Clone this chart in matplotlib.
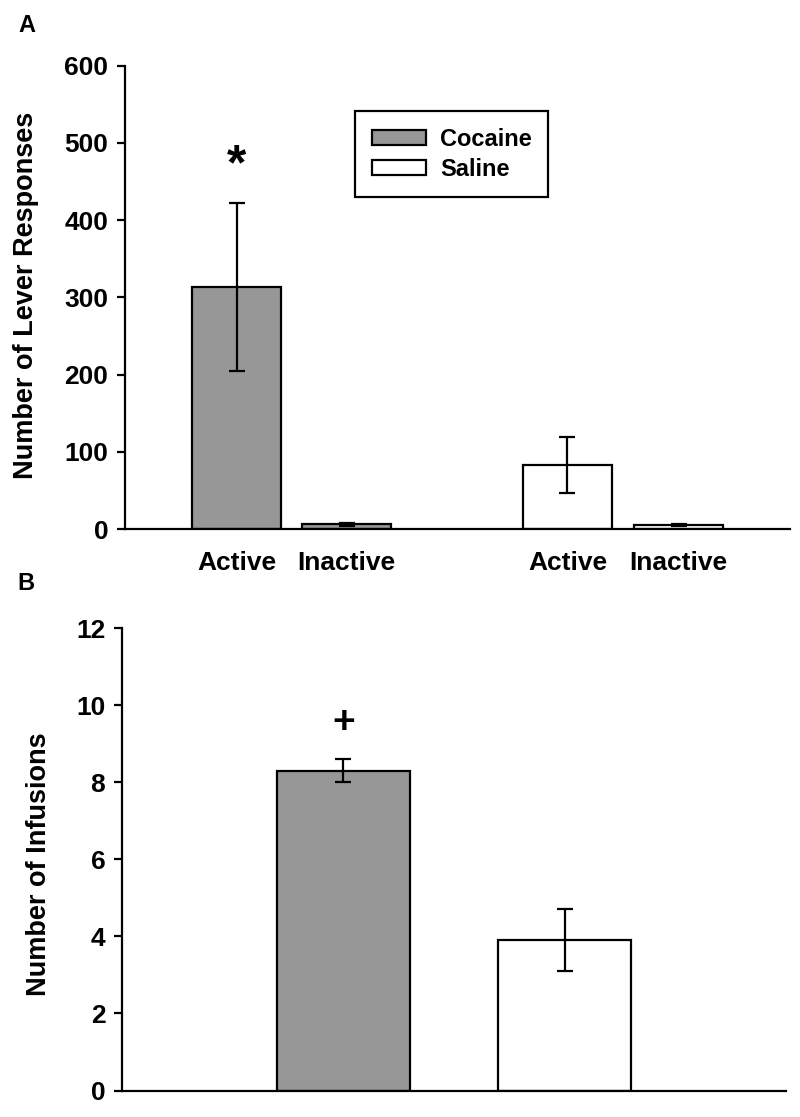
import matplotlib
matplotlib.use('Agg')
import matplotlib.pyplot as plt

plt.rcParams['font.family'] = ['Liberation Sans', 'DejaVu Sans']
plt.rcParams['font.weight'] = 'bold'
plt.rcParams['axes.labelweight'] = 'bold'

# panel A: lever responses
lever_labels = ['Active', 'Inactive', 'Active', 'Inactive']
cocaine_resp = [313, 6]
cocaine_resp_err = [109, 1.5]
saline_resp = [83, 5]
saline_resp_err = [36, 1]

# panel B: infusions
infusion_groups = ['Cocaine', 'Saline']
infusions = [8.3, 3.9]
infusions_err = [0.3, 0.8]

gray = '#979797'
lw = 1.6
fs = 19

fig = plt.figure(figsize=(8, 11.17), dpi=100)
W, H = 800, 1117


def px_axes(x0, x1, ytop, ybot):
    return fig.add_axes([x0 / W, 1 - ybot / H, (x1 - x0) / W, (ybot - ytop) / H])


def style(ax):
    for s in ['top', 'right']:
        ax.spines[s].set_visible(False)
    for s in ['left', 'bottom']:
        ax.spines[s].set_linewidth(lw)
    ax.tick_params(axis='y', direction='out', length=6, width=lw, labelsize=fs, pad=6)
    ax.tick_params(axis='x', length=0)


# ---- panel A ----
axA = px_axes(125, 790, 65.7, 529)
pos_c = [1.253, 2.489]
pos_s = [4.97, 6.22]
ek = dict(elinewidth=lw, capthick=lw, capsize=6, ecolor='black')
axA.bar(pos_c, cocaine_resp, width=1.0, color=gray, edgecolor='black', linewidth=lw,
        yerr=cocaine_resp_err, error_kw=ek, label='Cocaine')
axA.bar(pos_s, saline_resp, width=1.0, color='white', edgecolor='black', linewidth=lw,
        yerr=saline_resp_err, error_kw=ek, label='Saline')
axA.set_xlim(0, 7.47)
axA.set_ylim(0, 600)
axA.set_yticks(range(0, 601, 100))
axA.set_xticks(pos_c + pos_s)
axA.set_xticklabels(lever_labels, fontsize=fs)
axA.tick_params(axis='x', pad=16)
style(axA)
axA.set_ylabel('Number of Lever Responses', fontsize=19.5)
axA.yaxis.set_label_coords(-0.129, 0.505)
axA.text(pos_c[0], cocaine_resp[0] + cocaine_resp_err[0] + 48, '*', fontsize=36,
         ha='center', va='center')
leg = axA.legend(loc='upper left', bbox_to_anchor=(0.346, 0.902), borderaxespad=0,
                 fontsize=17, handlelength=2.3, handleheight=0.6, handletextpad=0.6,
                 labelspacing=0.3, borderpad=0.7, fancybox=False, framealpha=1,
                 edgecolor='black')
leg.get_frame().set_linewidth(lw)
for p in leg.get_patches():
    p.set_linewidth(lw)

# ---- panel B ----
axB = px_axes(122, 786, 628.3, 1090.5)
posB = [5 / 3, 10 / 3]
axB.bar(posB, infusions, width=1.0, color=[gray, 'white'], edgecolor='black', linewidth=lw,
        yerr=infusions_err, error_kw=ek)
axB.set_xlim(0, 5)
axB.set_ylim(0, 12)
axB.set_yticks(range(0, 13, 2))
axB.set_xticks([])
style(axB)
axB.set_ylabel('Number of Infusions', fontsize=19.5)
axB.yaxis.set_label_coords(-0.105, 0.49)
axB.text(posB[0], 9.55, '+', fontsize=28, ha='center', va='center')

fig.text(27 / W, 1 - 26 / H, 'A', fontsize=17, ha='center', va='center')
fig.text(26 / W, 1 - 583 / H, 'B', fontsize=17, ha='center', va='center')

fig.savefig('out.png', dpi=100)
